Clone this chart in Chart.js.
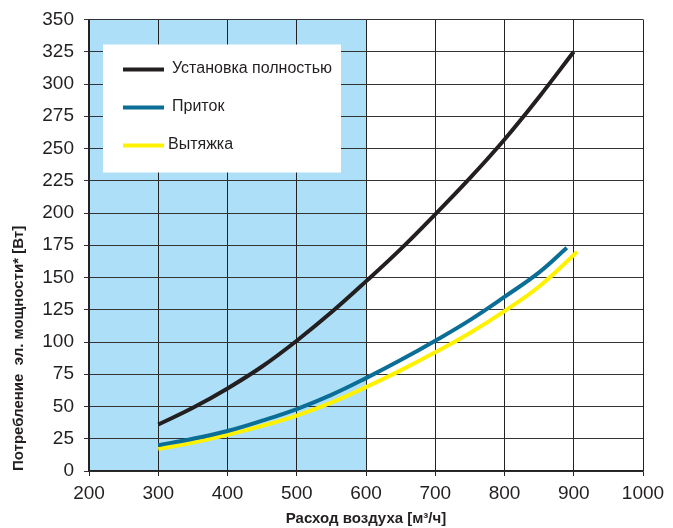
<!DOCTYPE html>
<html>
<head>
<meta charset="utf-8">
<script src="https://cdn.jsdelivr.net/npm/chart.js@4"></script>
<style>
  html, body { margin: 0; padding: 0; background: #fff; }
  #wrap { width: 673px; height: 528px; }
</style>
</head>
<body>
<div id="wrap"><canvas id="power-chart" width="673" height="528"></canvas></div>
<script>
const flowTotal = [300, 350, 400, 450, 500, 550, 600, 650, 700, 750, 800, 850, 900];
const powerTotal = [36, 49, 64, 81, 101, 123, 147, 172, 199, 227, 257, 290, 325];

const flowSupply = [300, 350, 400, 450, 500, 550, 600, 650, 700, 750, 800, 850, 890];
const powerSupply = [20, 25, 31, 39, 48, 59, 72, 86, 101, 117, 135, 154, 173];

const flowExhaust = [300, 350, 400, 450, 500, 550, 600, 650, 700, 750, 800, 850, 905];
const powerExhaust = [17, 22, 28, 35, 43, 53, 65, 78, 92, 107, 124, 143, 170];

const seriesNames = ['Установка полностью', 'Приток', 'Вытяжка'];
const shadedRange = [200, 600];

const FONT = '"Liberation Sans", Arial, sans-serif';

function pts(xs, ys) {
  return xs.map((x, i) => ({ x: x, y: ys[i] }));
}

const bandPlugin = {
  id: 'band',
  beforeDraw(chart) {
    const { ctx, chartArea, scales } = chart;
    ctx.save();
    ctx.fillStyle = '#fff';
    ctx.fillRect(0, 0, chart.width, chart.height);
    const x1 = scales.x.getPixelForValue(shadedRange[0]);
    const x2 = scales.x.getPixelForValue(shadedRange[1]);
    ctx.fillStyle = '#ade0f8';
    ctx.fillRect(x1, chartArea.top, x2 - x1, chartArea.bottom - chartArea.top);
    ctx.restore();
  }
};

// legend box inside the plot, drawn over the grid
const boxLegend = {
  id: 'boxLegend',
  beforeDatasetsDraw(chart) {
    const { ctx, chartArea } = chart;
    const left = chartArea.left + 14;
    const top = chartArea.top + 25;
    ctx.save();
    ctx.fillStyle = '#fff';
    ctx.fillRect(left, top, 238, 128);
    ctx.font = '16px ' + FONT;
    ctx.textBaseline = 'middle';
    chart.data.datasets.forEach((ds, i) => {
      const y = top + 25 + i * 38;
      ctx.strokeStyle = ds.borderColor;
      ctx.lineWidth = 4;
      ctx.beginPath();
      ctx.moveTo(left + 20, y);
      ctx.lineTo(left + 61, y);
      ctx.stroke();
      ctx.fillStyle = '#231f20';
      ctx.fillText(ds.label, left + (i === 2 ? 65 : 69), y - 1);
    });
    ctx.restore();
  }
};

new Chart(document.getElementById('power-chart'), {
  type: 'line',
  data: {
    datasets: [
      { label: seriesNames[0], data: pts(flowTotal, powerTotal), borderColor: '#231f20' },
      { label: seriesNames[1], data: pts(flowSupply, powerSupply), borderColor: '#0a6e96' },
      { label: seriesNames[2], data: pts(flowExhaust, powerExhaust), borderColor: '#fff200' }
    ].map(d => Object.assign(d, {
      borderWidth: 4,
      pointRadius: 0,
      fill: false,
      tension: 0.4,
      borderCapStyle: 'butt'
    }))
  },
  options: {
    responsive: false,
    animation: false,
    layout: { padding: { top: 0, right: 30, left: 0, bottom: 0 } },
    plugins: {
      legend: { display: false },
      tooltip: { enabled: false }
    },
    scales: {
      x: {
        type: 'linear',
        min: 200,
        max: 1000,
        ticks: {
          stepSize: 100,
          color: '#231f20',
          font: { family: FONT, size: 19 },
          padding: 6,
          callback: v => String(v)
        },
        grid: { color: '#222', lineWidth: 1, tickLength: 5 },
        border: { color: '#222', width: 1.5 },
        title: {
          display: true,
          text: 'Расход воздуха [м³/ч]',
          color: '#231f20',
          font: { family: FONT, size: 15, weight: 'bold' },
          padding: { top: 4, bottom: 0 }
        },
        afterFit(scale) { scale.height = 57; }
      },
      y: {
        min: 0,
        max: 350,
        ticks: { stepSize: 25, color: '#231f20', font: { family: FONT, size: 19, lineHeight: 1 }, padding: 10 },
        grid: { color: '#333', lineWidth: 1, tickLength: 5 },
        border: { color: '#222', width: 1.5 },
        title: {
          display: true,
          align: 'start',
          text: 'Потребление  эл. мощности* [Вт]',
          color: '#231f20',
          font: { family: FONT, size: 15, weight: 'bold' },
          padding: { top: 10, bottom: 0 }
        },
        afterFit(scale) { scale.width = 89; }
      }
    }
  },
  plugins: [bandPlugin, boxLegend]
});
</script>
</body>
</html>
